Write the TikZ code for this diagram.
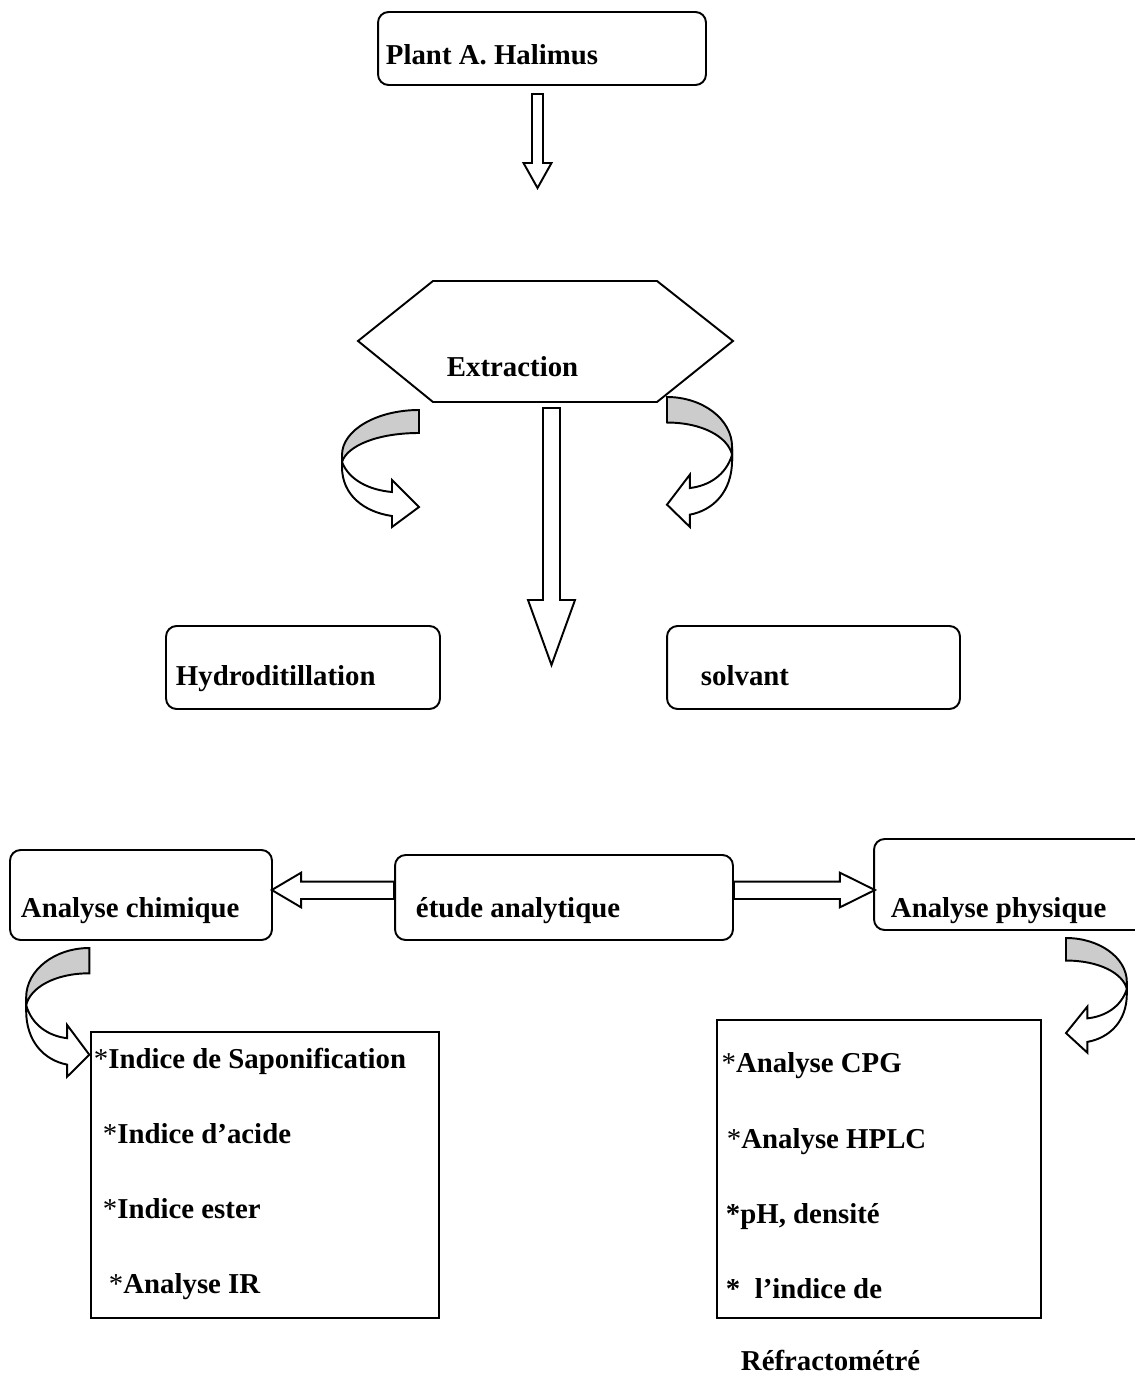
\documentclass[tikz,border=0pt]{standalone}
\usepackage{fontspec}
\setmainfont{Liberation Serif}
\usetikzlibrary{positioning,calc}

% twisted ribbon arrow, drawn bulging to +x and pointing back
\newcommand{\twistarrow}[3]{%
  \begin{scope}[shift={(#1)},xscale=#2,yscale=#3]
    \draw[back] (0,0) .. controls (42,0) and (77,20) .. (77,45) -- (77,52)
      .. controls (72,36) and (42,23) .. (0,23) -- cycle;
    \draw[front] (77,52) -- (77,57) .. controls (77,85) and (55,102) .. (27,106)
      -- (27,117) -- (0,97) -- (27,70) -- (27,82)
      .. controls (50,80) and (70,70) .. (77,52) -- cycle;
  \end{scope}}

\begin{document}
\begin{tikzpicture}[x=0.02cm,y=-0.02cm,line width=1.1pt,line join=miter,
  box/.style={draw,rounded corners=6pt,inner sep=0pt},
  listbox/.style={draw,inner sep=0pt},
  lbl/.style={inner sep=0pt,anchor=base west,font=\fontsize{16.4}{19}\selectfont\bfseries},
  barrow/.style={draw,fill=white},
  back/.style={draw,fill=black!20},
  front/.style={draw,fill=white}]

\useasboundingbox (0,0) rectangle (1134,1382);

% boxes
\node[box,minimum width=6.56cm,minimum height=1.46cm] (plant) at (542,48.5) {};
\node[box,minimum width=5.48cm,minimum height=1.66cm] (hydro) at (303,667.5) {};
\node[box,minimum width=5.86cm,minimum height=1.66cm] (solv) at (813.5,667.5) {};
\node[box,minimum width=5.24cm,minimum height=1.8cm] (chimique) at (141,895) {};
\node[box,minimum width=6.76cm,minimum height=1.7cm] (etude) at (564,897.5) {};
\node[box,minimum width=5.72cm,minimum height=1.82cm] (physique) at (1017,884.5) {};
\node[listbox,minimum width=6.96cm,minimum height=5.73cm] (listL) at (265,1175) {};
\node[listbox,minimum width=6.49cm,minimum height=5.96cm] (listR) at (878.9,1169) {};

% hexagon
\draw (358,341) -- (433,281) -- (657,281) -- (733,341) -- (657,402) -- (433,402) -- cycle;

% texts
\node[lbl] (tplant) at (385,65) {Plant A. Halimus};
\node[lbl] (extraction) at (446,376) {Extraction};
\node[lbl] (thydro) at (175,685) {Hydroditillation};
\node[lbl] (tsolv) at (700,685) {solvant};
\node[lbl] (tchim) at (20,917) {Analyse chimique};
\node[lbl] (tetude) at (415,917) {étude analytique};
\node[lbl] (tphys) at (890,917) {Analyse physique};

\node[lbl] (l1) at (93,1068) {{\mdseries *}Indice de Saponification};
\node[lbl] (l2) at (102,1143) {{\mdseries *}Indice d’acide};
\node[lbl] (l3) at (102,1218) {{\mdseries *}Indice ester};
\node[lbl] (l4) at (108,1293) {{\mdseries *}Analyse IR};

\node[lbl] (r1) at (720.7,1072) {{\mdseries *}Analyse CPG};
\node[lbl] (r2) at (726,1148) {{\mdseries *}Analyse HPLC};
\node[lbl] (r3) at (725,1223) {*pH, densité};
\node[lbl] (r4) at (725,1298) {*\ \ l’indice de};
\node[lbl] (r5) at (740,1370) {Réfractométré};

% block arrows
\coordinate (dtop) at (537.5,94);
\coordinate (dtip) at (537.5,188);
\draw[barrow] (dtop) ++(-5.5,0) -- ++(0,69) -- ++(-8.5,0) -- (dtip) -- ++(14,-25)
  -- ++(-8.5,0) -- ++(0,-69) -- cycle;

\coordinate (ltop) at (551.5,408);
\coordinate (ltip) at (551.5,665);
\draw[barrow] (ltop) ++(-8.5,0) -- ++(0,192) -- ++(-15,0) -- (ltip) -- ++(23.5,-65)
  -- ++(-15,0) -- ++(0,-192) -- cycle;

\draw[barrow] ($(etude.west)+(0,-15.8)$) -- ++(-93,0) -- ++(0,-9) -- ++(-29.3,17.3)
  -- ++(29.3,17.3) -- ++(0,-8.3) -- ++(93,0) -- cycle;
\draw[barrow] ($(etude.east)+(0,-15.8)$) -- ++(106,0) -- ++(0,-9) -- ++(35,17.3)
  -- ++(-35,17.3) -- ++(0,-8.3) -- ++(-106,0) -- cycle;

% curved arrows
\twistarrow{419,410}{-1}{1}
\twistarrow{667,397}{0.845}{1.11}
\twistarrow{89.3,948}{-0.82}{1.1}
\twistarrow{1066,938}{0.79}{0.98}

\end{tikzpicture}
\end{document}
